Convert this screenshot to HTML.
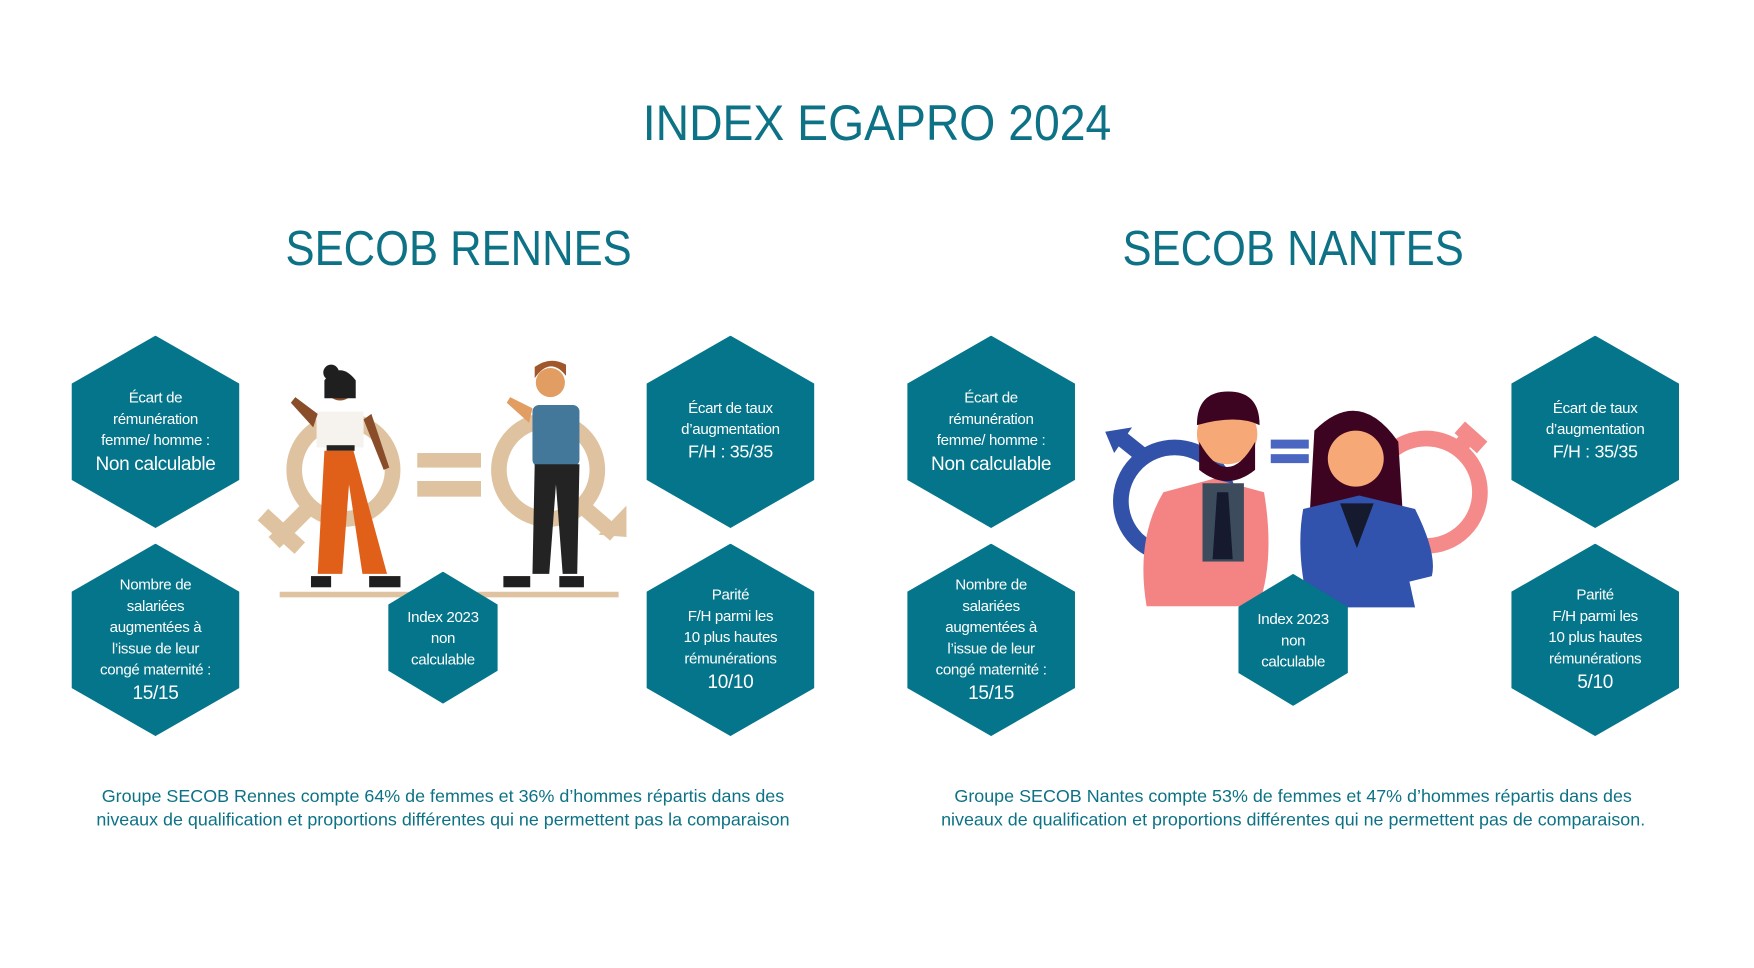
<!DOCTYPE html>
<html><head><meta charset="utf-8"><style>
html,body{margin:0;padding:0;background:#fff;overflow:hidden}
#w{position:absolute;left:0;top:0;width:1568px;height:865px;transform:scale(1.11862);transform-origin:0 0;font-family:"Liberation Sans",sans-serif;}
.t{position:absolute;color:#0d7285;text-align:center;white-space:nowrap}
.hx{position:absolute;background:#04758a;clip-path:polygon(50% 0,100% 25%,100% 75%,50% 100%,0 75%,0 25%);color:#fff;display:flex;align-items:center;justify-content:center;text-align:center;font-size:13.5px;line-height:19px;letter-spacing:-0.3px}
.hx b{font-weight:normal;font-size:17px;line-height:24px}
.big{width:150px;height:172px}
.sm{width:98px;height:118px}
</style></head><body><div id="w">
<div class="t" style="left:0;width:1568px;top:84px;font-size:45px;transform:scaleX(0.92)">INDEX EGAPRO 2024</div>
<div class="t" style="left:210px;width:400px;top:198px;font-size:44px;transform:scaleX(0.885)">SECOB RENNES</div>
<div class="t" style="left:956px;width:400px;top:198px;font-size:44px;transform:scaleX(0.885)">SECOB NANTES</div>

<svg style="position:absolute;left:0;top:0" width="1568" height="865">
 <g fill="none" stroke="#dfc3a1" stroke-width="14">
  <circle cx="307" cy="420" r="44"/>
  <line x1="275" y1="455" x2="245" y2="485"/>
  <line x1="235" y1="460" x2="268" y2="490"/>
  <circle cx="490" cy="420" r="44"/>
  <line x1="520" y1="452" x2="550" y2="478"/>
 </g>
 <polygon points="535,478 560,452 560,480" fill="#dfc3a1"/>
 <rect x="373" y="405" width="57" height="13" fill="#dfc3a1"/>
 <rect x="373" y="430" width="57" height="14" fill="#dfc3a1"/>
 <rect x="250" y="529" width="303" height="5" fill="#dfc3a1"/>
 <circle cx="304" cy="345" r="13" fill="#8a4d2a"/><circle cx="296" cy="333" r="7" fill="#1f1f1f"/>
 <path d="M290 340 q14 -18 28 0 v16 h-28z" fill="#1f1f1f"/>
 <rect x="283" y="368" width="42" height="32" fill="#f6f2ee"/>
 <rect x="292" y="398" width="25" height="5" fill="#222"/>
 <path d="M290 403 h26 l30 110 h-22 l-12 -80 l-6 80 h-22z" fill="#e0601a"/>
 <path d="M284 370 l-20 -15 l-4 5 l20 22z" fill="#8a4d2a"/>
 <path d="M325 375 l18 45 l5 -2 l-16 -48z" fill="#8a4d2a"/>
 <rect x="278" y="515" width="18" height="10" fill="#1f1f1f"/><rect x="330" y="515" width="28" height="10" fill="#1f1f1f"/>
 <circle cx="492" cy="342" r="13" fill="#e19d62"/><path d="M478 338 q14 -20 28 -2 v-10 q-14 -8 -28 2z" fill="#a0582b"/>
 <rect x="476" y="362" width="42" height="55" rx="6" fill="#44789a"/>
 <path d="M476 365 l-20 -10 l-3 5 l20 18z" fill="#e19d62"/>
 <path d="M478 415 h40 l-2 98 h-13 l-6 -80 l-6 80 h-15z" fill="#232323"/>
 <rect x="450" y="515" width="24" height="10" fill="#1f1f1f"/><rect x="500" y="515" width="22" height="10" fill="#1f1f1f"/>

 <g fill="none" stroke-width="14">
  <circle cx="1050" cy="448" r="48" stroke="#3251a8"/>
  <line x1="1025" y1="410" x2="1000" y2="390" stroke="#3251a8"/>
  <circle cx="1275" cy="440" r="48" stroke="#f48a8a"/>
  <line x1="1300" y1="405" x2="1318" y2="385" stroke="#f48a8a"/>
  <line x1="1305" y1="382" x2="1325" y2="400" stroke="#f48a8a"/>
 </g>
 <polygon points="988,386 1012,382 996,405" fill="#3251a8"/>
 <rect x="1136" y="393" width="34" height="8" fill="#4a66c0"/>
 <rect x="1136" y="406" width="34" height="8" fill="#4a66c0"/>
 <path d="M1040 440 l45 -12 l45 12 q10 60 -5 102 h-100 q-10 -60 15 -102z" fill="#f48484"/>
 <rect x="1075" y="432" width="37" height="70" fill="#3c4c5c"/>
 <path d="M1088 440 h10 l4 60 h-18z" fill="#151a2e"/>
 <circle cx="1097" cy="388" r="27" fill="#f7a877"/>
 <path d="M1072 395 q25 45 50 0 v25 q-25 20 -50 0z" fill="#3c0420"/>
 <path d="M1070 380 q0 -30 28 -30 q28 0 28 30 q-20 -10 -56 0z" fill="#3c0420"/>
 <path d="M1175 385 q40 -40 75 10 l5 80 h-85z" fill="#3c0420"/>
 <circle cx="1212" cy="410" r="25" fill="#f7a877"/>
 <path d="M1165 455 l50 -12 l50 12 q20 40 15 60 l-20 5 l5 23 h-95 q-12 -50 -5 -88z" fill="#3152ad"/>
 <path d="M1198 450 h30 l-15 40z" fill="#151a2e"/>
</svg>

<div class="hx big" style="left:64px;top:300px"><div>Écart de<br>rémunération<br>femme/ homme :<br><b>Non calculable</b></div></div>
<div class="hx big" style="left:64px;top:486px"><div>Nombre de<br>salariées<br>augmentées à<br>l’issue de leur<br>congé maternité :<br><b>15/15</b></div></div>
<div class="hx big" style="left:578px;top:300px"><div>Écart de taux<br>d’augmentation<br><b style="font-size:16px">F/H : 35/35</b></div></div>
<div class="hx big" style="left:578px;top:486px"><div>Parité<br>F/H parmi les<br>10 plus hautes<br>rémunérations<br><b>10/10</b></div></div>
<div class="hx sm" style="left:347px;top:511px"><div>Index 2023<br>non<br>calculable</div></div>

<div class="hx big" style="left:811px;top:300px"><div>Écart de<br>rémunération<br>femme/ homme :<br><b>Non calculable</b></div></div>
<div class="hx big" style="left:811px;top:486px"><div>Nombre de<br>salariées<br>augmentées à<br>l’issue de leur<br>congé maternité :<br><b>15/15</b></div></div>
<div class="hx big" style="left:1351px;top:300px"><div>Écart de taux<br>d’augmentation<br><b style="font-size:16px">F/H : 35/35</b></div></div>
<div class="hx big" style="left:1351px;top:486px"><div>Parité<br>F/H parmi les<br>10 plus hautes<br>rémunérations<br><b>5/10</b></div></div>
<div class="hx sm" style="left:1107px;top:513px"><div>Index 2023<br>non<br>calculable</div></div>

<div class="t" style="left:46px;width:700px;top:702px;font-size:16px;line-height:21px">Groupe SECOB Rennes compte 64% de femmes et 36% d’hommes répartis dans des<br>niveaux de qualification et proportions différentes qui ne permettent pas la comparaison</div>
<div class="t" style="left:806px;width:700px;top:702px;font-size:16px;line-height:21px">Groupe SECOB Nantes compte 53% de femmes et 47% d’hommes répartis dans des<br>niveaux de qualification et proportions différentes qui ne permettent pas de comparaison.</div>
</div></body></html>
